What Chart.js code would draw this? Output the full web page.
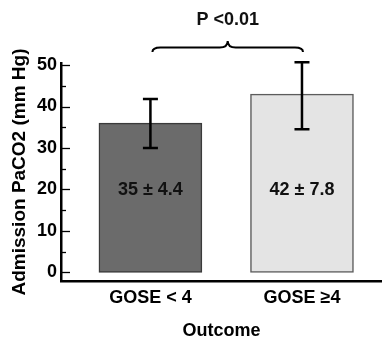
<!DOCTYPE html>
<html>
<head>
<meta charset="utf-8">
<script src="https://cdn.jsdelivr.net/npm/chart.js@4"></script>
<style>
  html, body { margin: 0; padding: 0; background: #fff; }
  #wrap { width: 382px; height: 340px; }
</style>
</head>
<body>
<div id="wrap"><canvas id="myChart"></canvas></div>
<script>
const categories = ['GOSE < 4', 'GOSE \u22654'];
const means = [36, 43];
const errLow = [30, 34.5];
const errHigh = [41.8, 50.7];
const barTexts = ['35 \u00b1 4.4', '42 \u00b1 7.8'];
const yTicks = [0, 10, 20, 30, 40, 50];
const pText = 'P <0.01';

const FONT = 'Liberation Sans, Arial, sans-serif';

// error bars, inner ticks, bar texts and the bracket
const extras = {
    id: 'extras',
    afterDatasetsDraw(chart) {
        const ctx = chart.ctx;
        const x = chart.scales.x, y = chart.scales.y;
        ctx.save();
        ctx.strokeStyle = '#000';

        // minor + major ticks pointing inward
        ctx.lineWidth = 1.3;
        for (let v = 0; v <= 50; v += 5) {
            const py = Math.round(y.getPixelForValue(v)) + 0.5;
            const len = v % 10 === 0 ? 9 : 5;
            ctx.beginPath();
            ctx.moveTo(chart.chartArea.left, py);
            ctx.lineTo(chart.chartArea.left + len, py);
            ctx.stroke();
        }

        // error bars
        ctx.lineWidth = 2.5;
        means.forEach((m, i) => {
            const px = x.getPixelForValue(i);
            const top = y.getPixelForValue(errHigh[i]);
            const bot = y.getPixelForValue(errLow[i]);
            ctx.beginPath();
            ctx.moveTo(px, top); ctx.lineTo(px, bot);
            ctx.moveTo(px - 7.5, top); ctx.lineTo(px + 7.5, top);
            ctx.moveTo(px - 7.5, bot); ctx.lineTo(px + 7.5, bot);
            ctx.stroke();
        });

        // texts inside bars
        ctx.fillStyle = '#111';
        ctx.font = 'bold 18px ' + FONT;
        ctx.textAlign = 'center';
        ctx.textBaseline = 'middle';
        barTexts.forEach((t, i) => {
            ctx.fillText(t, x.getPixelForValue(i), y.getPixelForValue(19.8));
        });

        // curly bracket
        const x1 = x.getPixelForValue(0) + 2;
        const x2 = x.getPixelForValue(1) + 1;
        const xm = (x1 + x2) / 2;
        const yEnd = 52, yMid = 47.5, yPeak = 41;
        ctx.lineWidth = 2;
        ctx.beginPath();
        ctx.moveTo(x1, yEnd);
        ctx.quadraticCurveTo(x1, yMid, x1 + 8, yMid);
        ctx.lineTo(xm - 8, yMid);
        ctx.quadraticCurveTo(xm, yMid, xm, yPeak);
        ctx.quadraticCurveTo(xm, yMid, xm + 8, yMid);
        ctx.lineTo(x2 - 8, yMid);
        ctx.quadraticCurveTo(x2, yMid, x2, yEnd);
        ctx.stroke();

        // p value
        ctx.font = 'bold 18px ' + FONT;
        ctx.fillText(pText, xm, 20);
        ctx.restore();
    }
};

const ctx = document.getElementById('myChart').getContext('2d');
new Chart(ctx, {
    type: 'bar',
    data: {
        datasets: [{
            data: means.map((v, i) => ({ x: i, y: v })),
            backgroundColor: ['#6b6b6b', '#e4e4e4'],
            borderColor: ['#3a3a3a', '#5c5c5c'],
            borderWidth: 1.5,
            borderSkipped: false,
            barThickness: 103
        }]
    },
    options: {
        responsive: true,
        maintainAspectRatio: false,
        animation: false,
        layout: { padding: { left: 0, right: 0, top: 63, bottom: 0 } },
        plugins: { legend: { display: false }, tooltip: { enabled: false } },
        scales: {
            x: {
                type: 'linear',
                offset: false,
                min: -0.59,
                max: 1.528,
                afterBuildTicks: s => { s.ticks = categories.map((c, i) => ({ value: i })); },
                afterFit: s => { s.height = 59; },
                grid: { display: false, drawTicks: false },
                border: { display: true, color: '#000', width: 2.5 },
                ticks: {
                    color: '#000',
                    padding: 6,
                    maxRotation: 0,
                    autoSkip: false,
                    font: { family: FONT, size: 18, weight: 'bold' },
                    callback: v => categories[v]
                },
                title: {
                    display: true,
                    text: 'Outcome',
                    color: '#000',
                    padding: { top: 0, bottom: -2 },
                    font: { family: FONT, size: 18, weight: 'bold' }
                }
            },
            y: {
                min: -2.1,
                max: 50.5,
                afterBuildTicks: s => { s.ticks = yTicks.map(v => ({ value: v })); },
                afterFit: s => { s.width = 61; },
                grid: { display: false, drawTicks: false },
                border: { display: true, color: '#000', width: 2.5 },
                ticks: {
                    color: '#000',
                    padding: 4,
                    font: { family: FONT, size: 18, weight: 'bold' }
                },
                title: {
                    display: true,
                    text: 'Admission PaCO2 (mm Hg)',
                    color: '#000',
                    padding: { top: 8, bottom: 0 },
                    font: { family: FONT, size: 19, weight: 'bold' }
                }
            }
        }
    },
    plugins: [extras]
});
</script>
</body>
</html>
